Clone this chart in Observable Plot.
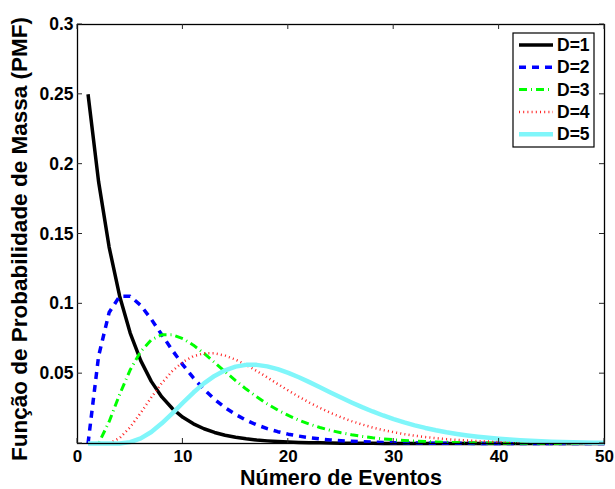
<!DOCTYPE html>
<html>
<head>
<meta charset="utf-8">
<script src="https://cdn.jsdelivr.net/npm/d3@7"></script>
<script src="https://cdn.jsdelivr.net/npm/@observablehq/plot@0.6"></script>
<style>
  html, body { margin: 0; padding: 0; background: #fff; }
  #chart svg { display: block; }
</style>
</head>
<body>
<div id="chart"></div>
<script>
// ---- data ----
const eventos = [1,2,3,4,5,6,7,8,9,10,11,12,13,14,15,16,17,18,19,20,21,22,23,24,25,26,27,28,29,30,31,32,33,34,35,36,37,38,39,40,41,42,43,44,45,46,47,48,49,50];
const d1 = [0.25,0.1875,0.14063,0.10547,0.0791,0.05933,0.04449,0.03337,0.02503,0.01877,0.01408,0.01056,0.00792,0.00594,0.00445,0.00334,0.00251,0.00188,0.00141,0.00106,0.00079,0.00059,0.00045,0.00033,0.00025,0.00019,0.00014,0.00011,0.00008,0.00006,0.00004,0.00003,0.00003,0.00002,0.00001,0,0,0,0,0,0,0,0,0,0,0,0,0,0,0];
const d2 = [0,0.0625,0.09375,0.10547,0.10547,0.09888,0.08899,0.07787,0.06674,0.05631,0.04693,0.03872,0.03168,0.02574,0.02079,0.0167,0.01336,0.01065,0.00846,0.00669,0.00529,0.00416,0.00327,0.00256,0.00201,0.00157,0.00122,0.00095,0.00074,0.00058,0.00045,0.00035,0.00027,0.00021,0.00016,0.00012,0.0001,0.00007,0.00006,0.00004,0.00003,0.00003,0.00002,0.00002,0.00001,0.00001,0.00001,0.00001,0,0];
const d3v = [0,0,0.01563,0.03516,0.05273,0.06592,0.07416,0.07787,0.07787,0.07508,0.07039,0.06453,0.05807,0.05147,0.04504,0.03898,0.03341,0.0284,0.02396,0.02008,0.01674,0.01387,0.01145,0.0094,0.00769,0.00627,0.0051,0.00413,0.00333,0.00269,0.00216,0.00173,0.00138,0.0011,0.00088,0.0007,0.00056,0.00044,0.00035,0.00028,0.00022,0.00017,0.00014,0.00011,0.00008,0.00007,0.00005,0.00004,0.00003,0.00002];
const d4 = [0,0,0,0.00391,0.01172,0.02197,0.03296,0.04326,0.05191,0.0584,0.06257,0.06453,0.06453,0.06291,0.06005,0.0563,0.05197,0.04733,0.0426,0.03794,0.03347,0.02929,0.02544,0.02194,0.0188,0.01603,0.01359,0.01146,0.00963,0.00806,0.00671,0.00557,0.00461,0.00381,0.00313,0.00257,0.0021,0.00172,0.0014,0.00113,0.00092,0.00074,0.0006,0.00048,0.00039,0.00031,0.00025,0.0002,0.00016,0.00013];
const d5 = [0,0,0,0,0.00098,0.00366,0.00824,0.01442,0.02163,0.0292,0.0365,0.04302,0.04839,0.05243,0.05505,0.0563,0.0563,0.05522,0.05324,0.05058,0.04742,0.04393,0.04027,0.03656,0.03291,0.02938,0.02604,0.02293,0.02006,0.01745,0.01511,0.01301,0.01115,0.00952,0.00809,0.00685,0.00578,0.00486,0.00407,0.0034,0.00284,0.00236,0.00195,0.00162,0.00133,0.0011,0.0009,0.00074,0.0006,0.00049];
const serieNames = ["D=1","D=2","D=3","D=4","D=5"];
const xTicks = [0,10,20,30,40,50];
const yTickLabels = [0.05,0.1,0.15,0.2,0.25,0.3];
const yTickMarks = [0,0.05,0.1,0.15,0.2,0.25,0.3];
const xTitle = "Número de Eventos";
const yTitle = "Função de Probabilidade de Massa (PMF)";

// ---- styles ----
const serieStyles = [
  {stroke: "#000000", strokeWidth: 3.5, dash: null},
  {stroke: "#0000ff", strokeWidth: 3.5, dash: "7,6"},
  {stroke: "#00ff00", strokeWidth: 3, dash: "8,4,1,4"},
  {stroke: "#ff2020", strokeWidth: 2.5, dash: "1,3.2"},
  {stroke: "#80f6fa", strokeWidth: 4.5, dash: null}
];
const FONT = "'Liberation Sans', Arial, sans-serif";

const allSeries = [d1, d2, d3v, d4, d5];
const table = [];
allSeries.forEach((vals, s) => {
  eventos.forEach((x, i) => table.push({x, y: vals[i], serie: serieNames[s]}));
});

const lineMarks = serieNames.map((name, s) => Plot.line(table.filter(d => d.serie === name), {
  x: "x", y: "y",
  stroke: serieStyles[s].stroke,
  strokeWidth: serieStyles[s].strokeWidth,
  strokeDasharray: serieStyles[s].dash ?? undefined,
  strokeLinecap: "butt",
  strokeLinejoin: "round"
}));

function tickMarks(index, scales, values, dims) {
  const {x, y} = scales;
  const L = dims.marginLeft, R = dims.width - dims.marginRight;
  const T = dims.marginTop, B = dims.height - dims.marginBottom;
  const len = 5;
  const g = d3.create("svg:g").attr("stroke", "#262626").attr("stroke-width", 1).attr("fill", "none");
  for (const t of xTicks) {
    const px = x(t);
    g.append("line").attr("x1", px).attr("x2", px).attr("y1", B).attr("y2", B - len);
    g.append("line").attr("x1", px).attr("x2", px).attr("y1", T).attr("y2", T + len);
  }
  for (const t of yTickMarks) {
    const py = y(t);
    g.append("line").attr("x1", L).attr("x2", L + len).attr("y1", py).attr("y2", py);
    g.append("line").attr("x1", R).attr("x2", R - len).attr("y1", py).attr("y2", py);
  }
  return g.node();
}

function legendMark(index, scales, values, dims) {
  const R = dims.width - dims.marginRight, T = dims.marginTop;
  const bw = 81, bh = 114;
  const bx = R - bw - 10, by = T + 9;
  const g = d3.create("svg:g");
  g.append("rect").attr("x", bx).attr("y", by).attr("width", bw).attr("height", bh)
    .attr("fill", "white").attr("stroke", "black").attr("stroke-width", 1.2);
  serieNames.forEach((name, i) => {
    const yy = by + 12 + i * 22.3;
    const st = serieStyles[i];
    const ln = g.append("line").attr("x1", bx + 6).attr("x2", bx + 40).attr("y1", yy).attr("y2", yy)
      .attr("stroke", st.stroke).attr("stroke-width", st.strokeWidth).attr("stroke-linecap", "butt");
    if (st.dash) ln.attr("stroke-dasharray", st.dash);
    g.append("text").attr("x", bx + 44).attr("y", yy).attr("dy", "0.35em")
      .attr("text-anchor", "start")
      .attr("font-size", 17.5).attr("font-weight", "bold").attr("fill", "black")
      .attr("font-family", FONT)
      .text(name);
  });
  return g.node();
}

const chart = Plot.plot({
  width: 615,
  height: 489,
  marginLeft: 77,
  marginRight: 11,
  marginTop: 24,
  marginBottom: 46,
  style: {fontFamily: FONT, fontWeight: "bold", background: "white", color: "black", overflow: "visible"},
  x: {domain: [0, 50]},
  y: {domain: [0, 0.3]},
  marks: [
    ...lineMarks,
    Plot.frame({stroke: "black", strokeWidth: 1.3}),
    tickMarks,
    Plot.axisX({ticks: xTicks, tickSize: 0, tickPadding: 6, fontSize: 17, fontWeight: "bold", label: null, tickFormat: d => String(d)}),
    Plot.axisY({ticks: yTickLabels, tickSize: 0, tickPadding: 4, fontSize: 17.5, fontWeight: "bold", label: null, tickFormat: d => String(d)}),
    Plot.text([xTitle], {text: d => d, frameAnchor: "bottom", textAnchor: "middle", lineAnchor: "bottom", dy: 41.5, fontSize: 21.5, fontWeight: "bold"}),
    Plot.text([yTitle], {text: d => d, frameAnchor: "left", textAnchor: "middle", lineAnchor: "middle", rotate: -90, dx: -57.5, dy: 5, fontSize: 22.5, fontWeight: "bold"}),
    legendMark
  ]
});
document.getElementById("chart").append(chart);
</script>
</body>
</html>
